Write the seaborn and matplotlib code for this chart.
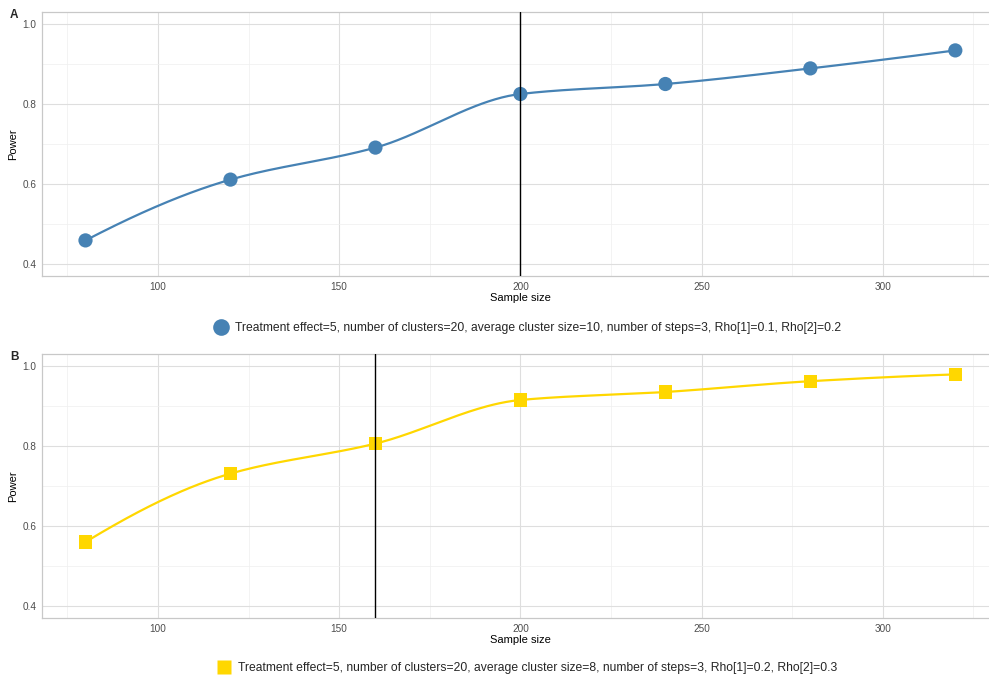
import numpy as np
import pandas as pd
import matplotlib
matplotlib.use("Agg")
import matplotlib.pyplot as plt
from matplotlib.lines import Line2D
import seaborn as sns

sample_size = [80, 120, 160, 200, 240, 280, 320]
power_a = [0.459, 0.611, 0.691, 0.825, 0.850, 0.889, 0.934]
power_b = [0.560, 0.731, 0.806, 0.915, 0.935, 0.962, 0.979]
chosen_a = 200
chosen_b = 160
label_a = "Treatment effect=5, number of clusters=20, average cluster size=10, number of steps=3, Rho[1]=0.1, Rho[2]=0.2"
label_b = "Treatment effect=5, number of clusters=20, average cluster size=8, number of steps=3, Rho[1]=0.2, Rho[2]=0.3"
color_a = "#4682B4"
color_b = "#FFD700"

sns.set_theme(style="white")
plt.rcParams['font.family'] = ['Liberation Sans', 'DejaVu Sans']


def pchip(x, y, xs):
    x = np.asarray(x, float); y = np.asarray(y, float)
    h = np.diff(x); d = np.diff(y) / h
    n = len(x); m = np.zeros(n)
    for k in range(1, n - 1):
        if d[k - 1] * d[k] > 0:
            w1 = 2 * h[k] + h[k - 1]; w2 = h[k] + 2 * h[k - 1]
            m[k] = (w1 + w2) / (w1 / d[k - 1] + w2 / d[k])
    m[0] = ((2 * h[0] + h[1]) * d[0] - h[0] * d[1]) / (h[0] + h[1])
    if np.sign(m[0]) != np.sign(d[0]): m[0] = 0
    m[-1] = ((2 * h[-1] + h[-2]) * d[-1] - h[-1] * d[-2]) / (h[-1] + h[-2])
    if np.sign(m[-1]) != np.sign(d[-1]): m[-1] = 0
    idx = np.clip(np.searchsorted(x, xs) - 1, 0, n - 2)
    t = (xs - x[idx]) / h[idx]
    h00 = 2 * t**3 - 3 * t**2 + 1; h10 = t**3 - 2 * t**2 + t
    h01 = -2 * t**3 + 3 * t**2; h11 = t**3 - t**2
    return h00 * y[idx] + h10 * h[idx] * m[idx] + h01 * y[idx + 1] + h11 * h[idx] * m[idx + 1]


W, H = 989, 679
fig = plt.figure(figsize=(W / 100, H / 100), dpi=100)

def frac_axes(l, t, r, b):
    return fig.add_axes([l / W, 1 - b / H, (r - l) / W, (b - t) / H])

panels = [
    (frac_axes(42, 12, 998.8, 276), power_a, chosen_a, label_a, color_a, "o", "A", 328),
    (frac_axes(42, 354, 998.8, 618), power_b, chosen_b, label_b, color_b, "s", "B", 668),
]

for ax, pw, chosen, lab, col, mk, letter, leg_y in panels:
    xs = np.linspace(min(sample_size), max(sample_size), 400)
    ys = pchip(sample_size, pw, xs)
    sns.lineplot(x=xs, y=ys, ax=ax, color=col, linewidth=1.6, zorder=3)
    df = pd.DataFrame({"n": sample_size, "p": pw})
    sns.scatterplot(data=df, x="n", y="p", ax=ax, color=col, marker=mk,
                    s=105 if mk == "o" else 90, edgecolor="none", zorder=4)
    ax.axvline(chosen, color="black", linewidth=1.0, zorder=5)
    ax.set_xlim(68, 332)
    ax.set_ylim(0.37, 1.03)
    ax.set_xticks([100, 150, 200, 250, 300])
    ax.set_xticks([75, 125, 175, 225, 275, 325], minor=True)
    ax.set_yticks([0.4, 0.6, 0.8, 1.0])
    ax.set_yticks([0.5, 0.7, 0.9], minor=True)
    ax.set_yticklabels(["0.4", "0.6", "0.8", "1.0"])
    ax.grid(True, which="major", color="#DEDEDE", linewidth=0.8)
    ax.grid(True, which="minor", color="#EFEFEF", linewidth=0.5)
    ax.set_axisbelow(True)
    for sp in ax.spines.values():
        sp.set_color("#C8C8C8"); sp.set_linewidth(0.9)
    ax.tick_params(axis="both", which="both", length=2, color="#C8C8C8",
                   labelsize=7.2, labelcolor="#4D4D4D", pad=2)
    ax.set_xlabel("Sample size", fontsize=8, color="black", labelpad=1)
    ax.set_ylabel("Power", fontsize=8, color="black", labelpad=3)
    top_px = (1 - ax.get_position().y1) * H
    fig.text(10 / W, 1 - (top_px + 3) / H, letter, fontsize=8.5, fontweight="bold", va="center", ha="left")
    handle = Line2D([], [], linestyle="none", marker=mk, color=col,
                    markersize=12 if mk == "o" else 10, markeredgecolor="none")
    fig.legend(handles=[handle], labels=[lab], loc="center",
               bbox_to_anchor=(527 / W, 1 - leg_y / H), frameon=False,
               fontsize=8.7, handletextpad=0.55, handlelength=1.2, borderpad=0)

fig.savefig("out.png", dpi=100)
